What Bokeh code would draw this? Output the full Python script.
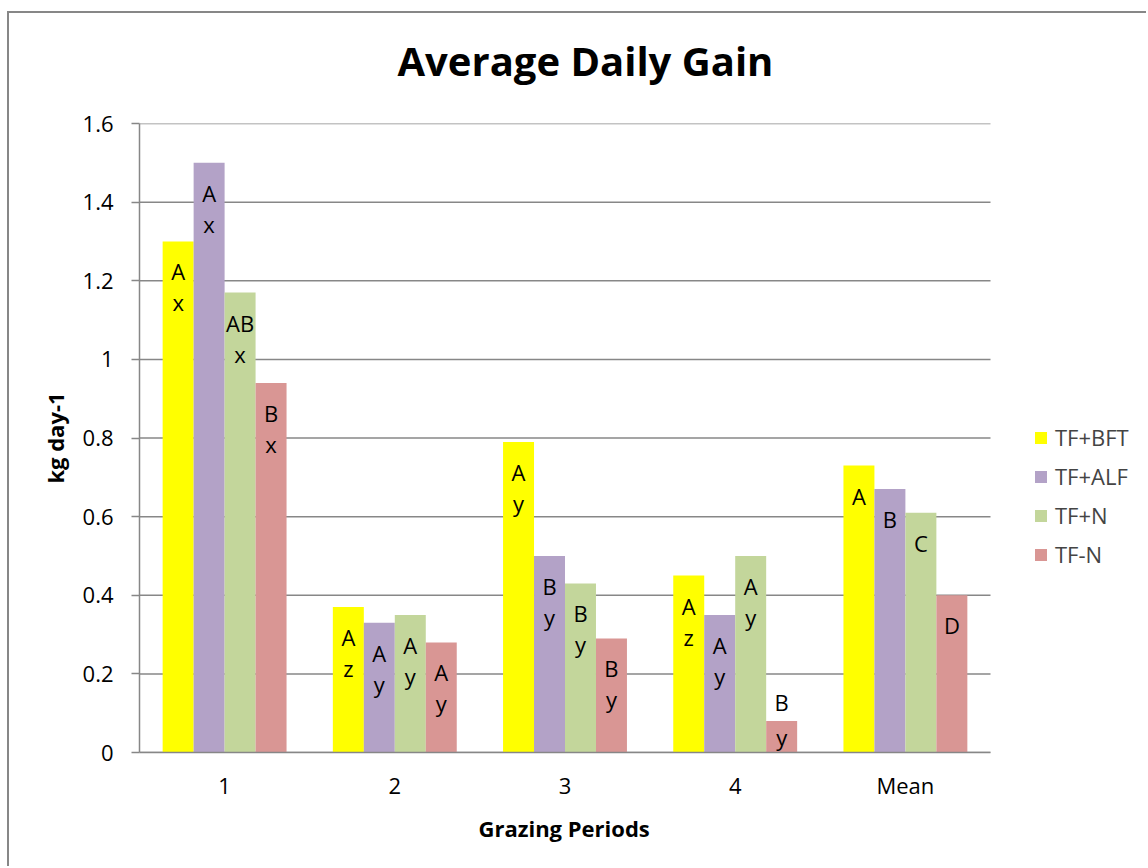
from bokeh.plotting import figure
from bokeh.models import (Range1d, ColumnDataSource, Legend, LegendItem,
                          FixedTicker, NumeralTickFormatter, Title)
from bokeh.embed import file_html
from bokeh.resources import INLINE
from bokeh.core.properties import value

# ---------------- data ----------------
categories = ["1", "2", "3", "4", "Mean"]
series_names = ["TF+BFT", "TF+ALF", "TF+N", "TF-N"]
colors = ["#FFFF00", "#B3A2C7", "#C3D69B", "#D99694"]

tf_bft = [1.30, 0.37, 0.79, 0.45, 0.73]
tf_alf = [1.50, 0.33, 0.50, 0.35, 0.67]
tf_n = [1.17, 0.35, 0.43, 0.50, 0.61]
tf_minus_n = [0.94, 0.28, 0.29, 0.08, 0.40]

upper_bft = ["A", "A", "A", "A", "A"]
lower_bft = ["x", "z", "y", "z", ""]
upper_alf = ["A", "A", "B", "A", "B"]
lower_alf = ["x", "y", "y", "y", ""]
upper_n = ["AB", "A", "B", "A", "C"]
lower_n = ["x", "y", "y", "y", ""]
upper_minus_n = ["B", "A", "B", "B", "D"]
lower_minus_n = ["x", "y", "y", "y", ""]

y_ticks = [0, 0.2, 0.4, 0.6, 0.8, 1, 1.2, 1.4, 1.6]

series_values = [tf_bft, tf_alf, tf_n, tf_minus_n]
series_upper = [upper_bft, upper_alf, upper_n, upper_minus_n]
series_lower = [lower_bft, lower_alf, lower_n, lower_minus_n]

# ---------------- figure ----------------
FONT = "Open Sans"
GRAY = "#878787"
W, H = 1139, 855
ML, MR, MT, MB = 130, 0, 110, 116
PLOT_PX = 851                       # width of the category area in pixels
ncat = len(categories)
frame_w = W - ML - MR
x_end = ncat * frame_w / PLOT_PX    # extra room on the right holds the legend
px_per_unit = (H - MT - MB) / 1.6

cat_x = [i + 0.5 for i in range(ncat)]

p = figure(x_range=Range1d(0, x_end), y_range=Range1d(0, 1.6),
           width=W, height=H, output_backend="svg", toolbar_location=None,
           min_border_left=ML, min_border_right=MR,
           min_border_top=MT, min_border_bottom=MB)

p.styles = {"margin-left": "7px", "margin-top": "11px",
            "border-left": "2px solid #878787",
            "border-top": "2px solid #878787"}

p.outline_line_color = None
p.background_fill_color = "white"
p.border_fill_color = "white"

p.title.text = "Average Daily Gain"
p.title.align = "left"
p.title.offset = 258
p.title.text_font = FONT
p.title.text_font_size = "40px"
p.title.text_font_style = "bold"
p.title.text_color = "black"
p.title.standoff = 0
p.title.padding = dict(left=0, right=0, top=0, bottom=36)

p.xgrid.grid_line_color = None
p.ygrid.grid_line_color = None

# horizontal gridlines limited to the category area
grid_src = ColumnDataSource(dict(t=y_ticks))
p.segment(x0=0, x1=ncat, y0="t", y1="t", source=grid_src,
          line_color=GRAY, line_width=1.5, level="underlay")

yax = p.yaxis[0]
yax.ticker = FixedTicker(ticks=y_ticks)
yax.formatter = NumeralTickFormatter(format="0.[0]")
yax.axis_line_color = GRAY
yax.axis_line_width = 1.5
yax.major_tick_line_color = GRAY
yax.major_tick_line_width = 1.5
yax.major_tick_out = 8
yax.major_tick_in = 0
yax.minor_tick_line_color = None
yax.major_label_standoff = 18
yax.major_label_text_font = FONT
yax.major_label_text_font_size = "22px"
yax.major_label_text_color = "black"
yax.axis_label = "kg day-1"
yax.axis_label_text_font = FONT
yax.axis_label_text_font_size = "22px"
yax.axis_label_text_font_style = "bold"
yax.axis_label_text_color = "black"
yax.axis_label_standoff = 10

xax = p.xaxis[0]
xax.bounds = (0, ncat)
xax.ticker = FixedTicker(ticks=cat_x)
xax.major_label_overrides = {x: c for x, c in zip(cat_x, categories)}
xax.axis_line_color = GRAY
xax.axis_line_width = 1.5
xax.major_tick_line_color = None
xax.major_tick_out = 0
xax.major_tick_in = 0
xax.minor_tick_line_color = None
xax.major_label_standoff = 17
xax.major_label_text_font = FONT
xax.major_label_text_font_size = "22px"
xax.major_label_text_color = "black"

# x-axis title, centred under the category area
x_title = Title(text="Grazing Periods", align="left", offset=339,
                text_font=FONT, text_font_size="22px", text_font_style="bold",
                text_color="black", standoff=16)
p.add_layout(x_title, "below")

bar_w = 0.182
offsets = [-1.5 * bar_w, -0.5 * bar_w, 0.5 * bar_w, 1.5 * bar_w]

items = []
for i in range(4):
    vals = series_values[i]
    off1, off2 = [], []
    for v in vals:
        if v * px_per_unit < 70:
            off1.append(-19)
            off2.append(16)
        else:
            off1.append(30)
            off2.append(61)
    src = ColumnDataSource(dict(x=[c + offsets[i] for c in cat_x], val=vals,
                                up=series_upper[i], lo=series_lower[i],
                                off1=off1, off2=off2))
    r = p.vbar(x="x", top="val", bottom=0, width=bar_w, source=src,
               fill_color=colors[i], line_color=None)
    for col, off in (("up", "off1"), ("lo", "off2")):
        p.text(x="x", y="val", text=col, y_offset=off, source=src,
               text_align="center", text_baseline="middle",
               text_font=value(FONT), text_font_size="22px", text_color="black")
    items.append(LegendItem(label=series_names[i], renderers=[r]))

legend = Legend(items=items, location=(894, 183), orientation="vertical",
                glyph_width=15, glyph_height=15, label_height=20,
                label_standoff=7, spacing=9, padding=0, margin=0,
                label_text_font=FONT, label_text_font_size="22px",
                border_line_color=None, background_fill_alpha=0)
p.add_layout(legend)

open("out.html", "w").write(file_html(p, INLINE))
